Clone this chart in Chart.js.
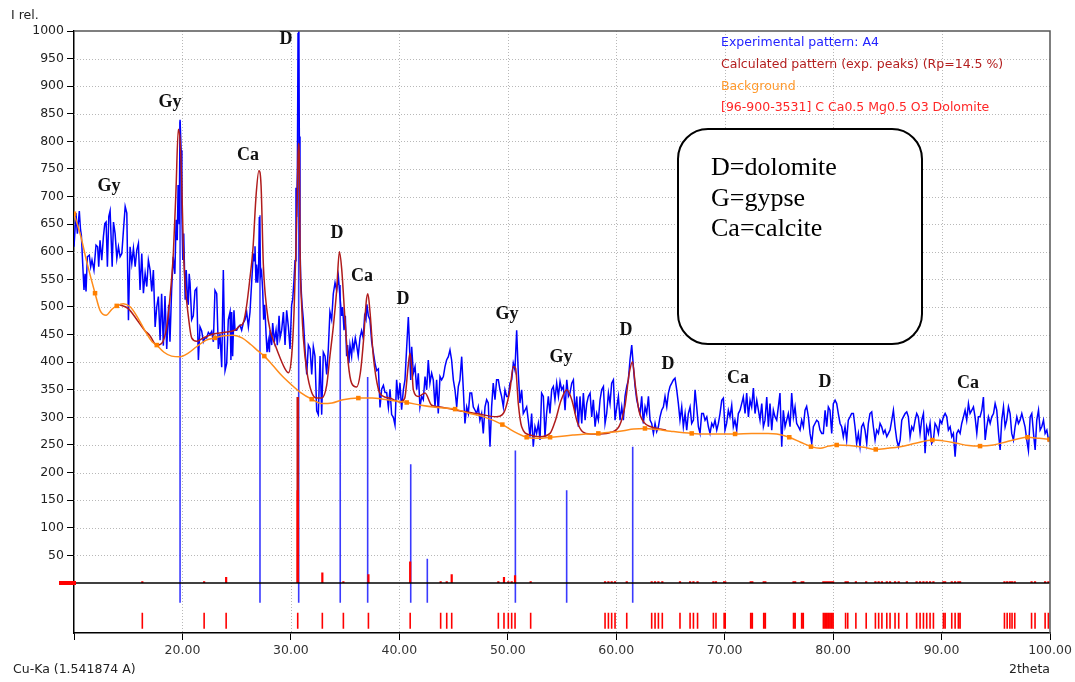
<!DOCTYPE html>
<html>
<head>
<meta charset="utf-8">
<script src="https://cdn.jsdelivr.net/npm/chart.js@4.4.1/dist/chart.umd.min.js"></script>
<style>
  html, body { margin: 0; padding: 0; background: #fff; }
  #wrap { width: 1075px; height: 682px; position: relative; }
</style>
</head>
<body>
<div id="wrap"><canvas id="xrd"></canvas></div>
<script>
// XRD pattern, sample A4
// ///////////////////////

// tick labels
const xTickValues = [10, 20, 30, 40, 50, 60, 70, 80, 90, 100];
const yTickValues = [0, 50, 100, 150, 200, 250, 300, 350, 400, 450, 500, 550, 600, 650, 700, 750, 800, 850, 900, 950, 1000];

// experimental pattern [2theta, I rel.]
const experimental = [
  [10.0,609],[10.18,670],[10.31,633],[10.49,674],[10.6,640],[10.68,630],[10.8,579],[10.92,531],[11.02,560],[11.11,528],
  [11.23,591],[11.41,594],[11.54,573],[11.66,585],[11.84,567],[12.03,612],[12.18,609],[12.28,573],[12.4,621],[12.56,585],
  [12.71,627],[12.84,651],[12.96,654],[13.08,573],[13.21,664],[13.33,674],[13.52,573],[13.64,654],[13.79,633],[13.95,588],
  [14.1,609],[14.25,591],[14.41,597],[14.56,639],[14.72,682],[14.87,670],[15.02,476],[15.17,609],[15.33,579],[15.48,606],
  [15.64,573],[15.79,603],[15.94,615],[16.09,531],[16.25,597],[16.4,525],[16.56,561],[16.71,537],[16.86,585],[17.02,567],
  [17.17,528],[17.32,567],[17.48,464],[17.63,500],[17.78,519],[17.94,440],[18.08,524],[18.24,430],[18.39,520],[18.55,424],
  [18.73,504],[18.85,437],[19.0,530],[19.15,591],[19.3,560],[19.42,658],[19.52,621],[19.6,721],[19.7,650],[19.78,839],
  [19.88,784],[19.95,670],[20.03,585],[20.12,633],[20.25,513],[20.35,567],[20.47,513],[20.54,504],[20.62,560],[20.7,544],
  [20.85,477],[21.0,484],[21.16,530],[21.31,534],[21.47,404],[21.62,464],[21.77,457],[21.93,437],[22.08,444],[22.23,444],
  [22.39,454],[22.54,450],[22.7,456],[22.85,437],[23.0,530],[23.16,524],[23.31,424],[23.46,451],[23.62,391],[23.77,567],
  [23.93,385],[24.08,398],[24.23,477],[24.39,491],[24.47,404],[24.54,491],[24.63,411],[24.75,494],[24.85,458],
  [25.0,458],[25.15,464],[25.31,467],[25.46,458],[25.61,471],[25.77,477],[25.92,491],[26.08,464],[26.23,491],[26.38,544],
  [26.54,597],[26.63,584],[26.69,610],[26.78,544],[26.84,577],[26.94,544],[27.03,577],[27.09,663],[27.21,557],[27.3,564],
  [27.4,530],[27.49,477],[27.59,504],[27.71,451],[27.8,418],[27.92,438],[28.02,418],[28.08,458],[28.23,431],[28.32,471],
  [28.48,438],[28.63,458],[28.75,431],[28.91,484],[29.0,444],[29.15,458],[29.31,491],[29.46,431],[29.61,494],[29.77,464],
  [29.92,424],[30.07,504],[30.17,514],[30.29,550],[30.38,584],[30.47,716],[30.53,663],[30.6,756],[30.66,995],[30.72,1000],
  [30.78,809],[30.84,610],[30.91,550],[30.97,524],[31.03,504],[31.15,477],[31.3,424],[31.46,378],[31.61,431],[31.77,424],
  [31.92,378],[32.07,428],[32.22,411],[32.38,312],[32.53,305],[32.69,411],[32.84,305],[32.99,418],[33.15,411],[33.3,378],
  [33.45,424],[33.6,491],[33.76,477],[33.91,524],[34.07,544],[34.22,530],[34.38,555],[34.53,517],[34.68,484],[34.77,500],
  [34.9,458],[35.02,484],[35.14,411],[35.23,431],[35.35,398],[35.45,431],[35.6,411],[35.69,437],[35.81,424],[35.94,444],
  [36.06,431],[36.21,411],[36.37,444],[36.52,457],[36.67,444],[36.8,484],[36.92,477],[37.01,505],[37.14,484],[37.29,477],
  [37.45,437],[37.6,418],[37.76,398],[37.91,385],[38.07,388],[38.22,318],[38.37,351],[38.53,358],[38.68,345],[38.83,345],
  [38.99,318],[39.14,351],[39.29,305],[39.45,300],
  [39.6,286],[39.75,368],[39.91,332],[40.06,362],[40.21,314],[40.37,350],[40.52,368],[40.68,428],[40.83,482],[40.92,440],
  [41.05,368],[41.14,428],[41.29,380],[41.45,392],[41.6,350],[41.75,380],[41.9,319],[42.06,338],[42.21,332],[42.37,374],
  [42.52,350],[42.67,404],[42.82,362],[42.98,380],[43.13,368],[43.29,319],[43.44,368],[43.59,307],[43.75,374],[43.9,368],
  [44.06,374],[44.21,392],[44.36,404],[44.52,410],[44.67,422],[44.82,404],[44.98,368],[45.13,350],[45.29,319],[45.44,356],
  [45.59,368],[45.75,410],[45.9,350],[46.05,289],[46.21,319],[46.36,307],[46.51,344],[46.67,344],[46.82,319],[46.98,313],
  [47.13,307],[47.28,319],[47.43,295],[47.59,307],[47.74,271],[47.9,319],[48.05,332],[48.2,326],[48.36,247],[48.51,319],
  [48.66,362],[48.82,332],[48.97,368],[49.13,368],[49.28,350],[49.43,338],[49.59,319],[49.74,350],[49.9,338],[50.05,338],
  [50.2,362],[50.36,368],[50.51,398],[50.66,386],[50.82,458],[50.97,380],[51.12,326],[51.28,350],[51.43,307],[51.59,313],
  [51.74,319],[51.89,295],[52.05,265],[52.2,307],[52.35,247],[52.51,283],[52.66,271],[52.82,289],[52.97,259],[53.12,344],
  [53.28,338],[53.43,265],[53.58,307],[53.74,338],[53.89,307],[54.05,350],[54.2,356],[54.35,332],
  [54.51,362],[54.67,338],[54.82,365],[54.97,350],[55.13,356],[55.28,313],[55.44,368],[55.59,338],[55.74,344],[55.9,362],
  [56.05,368],[56.2,307],[56.36,338],[56.51,283],[56.66,338],[56.82,289],[56.97,344],[57.13,295],[57.28,325],[57.43,338],
  [57.59,344],[57.74,301],[57.89,332],[58.05,283],[58.2,307],[58.35,295],[58.51,332],[58.66,350],[58.82,356],[58.97,289],
  [59.12,307],[59.28,344],[59.43,325],[59.58,362],[59.74,368],[59.89,295],[60.05,319],[60.2,338],[60.35,295],[60.51,319],
  [60.66,295],[60.81,338],[60.97,356],[61.12,368],[61.27,404],[61.43,431],[61.58,392],[61.74,356],[61.89,332],[62.04,319],
  [62.2,307],[62.35,338],[62.5,289],[62.66,319],[62.81,307],[62.97,338],[63.12,295],[63.27,289],[63.43,271],[63.58,289],
  [63.73,274],[63.89,283],[64.04,301],[64.19,313],[64.35,319],[64.5,338],[64.66,319],[64.81,344],[64.96,356],[65.12,362],
  [65.27,368],[65.42,371],[65.58,350],[65.73,325],[65.88,295],[66.04,319],[66.19,283],[66.35,307],[66.5,277],[66.65,307],
  [66.81,319],[66.96,289],[67.12,295],[67.27,350],[67.42,319],[67.58,283],[67.73,271],[67.88,307],[68.04,307],[68.19,295],
  [68.35,301],[68.5,283],[68.65,271],[68.81,289],[68.96,283],[69.11,295],
  [69.27,277],[69.42,289],[69.57,307],[69.73,331],[69.88,335],[70.03,277],[70.18,289],[70.34,313],[70.49,301],[70.65,322],
  [70.8,283],[70.95,295],[71.11,277],[71.26,307],[71.42,313],[71.57,325],[71.72,337],[71.88,307],[72.03,344],[72.19,301],
  [72.34,331],[72.49,319],[72.65,353],[72.8,307],[72.96,331],[73.11,313],[73.26,295],[73.42,325],[73.57,283],[73.72,295],
  [73.88,337],[74.03,283],[74.18,325],[74.34,277],[74.49,313],[74.64,301],[74.8,295],[74.95,319],[75.1,344],[75.26,247],
  [75.41,313],[75.57,283],[75.72,295],[75.87,307],[76.03,283],[76.18,344],[76.34,301],[76.49,319],[76.64,289],[76.8,283],
  [76.95,277],[77.1,295],[77.26,283],[77.41,313],[77.56,320],[77.72,301],[77.87,271],[78.03,253],[78.18,283],[78.33,289],
  [78.49,295],[78.64,292],[78.79,277],[78.95,271],[79.1,271],[79.26,313],[79.41,283],[79.56,319],[79.71,313],[79.87,271],
  [80.02,325],[80.18,331],[80.33,325],[80.48,307],[80.64,289],[80.79,283],[80.94,265],[81.1,283],[81.25,259],[81.4,295],
  [81.56,301],[81.71,307],[81.87,307],[82.02,283],[82.17,253],[82.33,271],[82.48,247],[82.63,283],[82.79,289],[82.94,277],
  [83.1,253],[83.25,289],[83.4,307],[83.56,310],[83.71,283],
  [83.87,259],[84.02,277],[84.18,271],[84.33,289],[84.48,283],[84.64,271],[84.79,277],[84.95,265],[85.1,271],[85.25,277],
  [85.41,295],[85.56,313],[85.71,283],[85.87,259],[86.02,247],[86.18,259],[86.33,295],[86.48,301],[86.64,307],[86.79,310],
  [86.94,301],[87.1,265],[87.25,283],[87.4,277],[87.56,295],[87.71,307],[87.86,301],[88.02,271],[88.17,295],[88.33,307],
  [88.48,235],[88.63,283],[88.79,271],[88.94,289],[89.09,253],[89.25,259],[89.4,289],[89.56,283],[89.71,271],[89.86,295],
  [90.02,289],[90.17,301],[90.33,307],[90.48,301],[90.63,277],[90.79,283],[90.94,265],[91.09,271],[91.25,229],[91.4,271],
  [91.55,277],[91.71,271],[91.86,289],[92.02,301],[92.17,313],[92.32,295],[92.48,325],[92.63,307],[92.79,313],[92.94,319],
  [93.09,301],[93.25,271],[93.4,301],[93.55,301],[93.71,313],[93.86,337],[94.02,259],[94.17,283],[94.32,301],[94.48,289],
  [94.63,301],[94.79,307],[94.94,325],[95.09,313],[95.25,271],[95.4,241],[95.55,295],[95.71,319],[95.86,283],[96.01,295],
  [96.17,319],[96.32,307],[96.47,271],[96.63,259],[96.78,283],[96.94,301],[97.09,289],[97.24,295],[97.4,307],[97.55,295],
  [97.7,283],[97.86,259],[98.01,240],[98.17,301],[98.32,307],[98.48,271],[98.63,241],[98.78,295],[98.94,313],[99.09,277],
  [99.24,283],[99.4,295],[99.55,271],[99.71,277],[99.86,259],[100.0,265]
];

// calculated pattern (exp. peaks)
const calculated = [
  [14.2,504],[15.0,497],[15.8,477],[16.5,458],[17.0,448],[17.62,431],[18.08,434],[18.55,464],[18.85,517],[19.16,597],
  [19.4,709],[19.62,822],[19.78,802],[19.93,729],[20.08,610],[20.24,544],[20.54,484],[20.85,444],[21.31,438],[21.93,444],
  [22.85,451],[23.77,454],[24.85,458],[25.3,466],[25.6,471],[25.9,500],[26.2,548],[26.5,605],[26.8,705],[27.05,747],
  [27.25,720],[27.46,577],[27.77,497],[28.08,458],[28.55,431],[29.0,408],[29.46,388],[29.77,381],[30.07,411],[30.29,491],
  [30.47,610],[30.6,710],[30.69,796],[30.78,770],[30.84,610],[31.0,500],[31.15,444],[31.46,385],[31.92,345],[32.38,335],
  [32.84,335],[33.3,358],[33.6,411],[33.91,464],[34.22,530],[34.47,600],[34.68,570],[34.99,477],[35.29,398],[35.6,362],
  [36.06,355],[36.4,380],[36.7,440],[36.95,510],[37.1,524],[37.3,490],[37.6,411],[38.07,351],[38.53,338],[39.14,335],
  [40.0,328],[40.5,335],[40.8,390],[40.98,416],[41.15,390],[41.29,350],[41.75,338],[42.37,344],[42.98,322],[43.75,319],
  [45.29,313],[47.13,307],[48.97,301],[49.5,305],[49.74,313],[50.2,350],[50.51,392],[50.72,389],[50.97,325],[51.28,283],
  [52.05,268],[52.97,265],[53.89,271],[54.4,295],[54.9,330],[55.44,350],[55.9,332],[56.4,292],[56.9,274],[57.6,270],
  [58.5,270],[59.5,273],[60.3,285],[60.8,320],[61.2,380],[61.5,401],[61.75,360],[62.1,312],[62.6,290],[63.2,283],
  [64.0,279],[64.6,277]
];

// background curve and its nodes
const background = [
  [10.0,669],[10.6,630],[11.2,580],[11.94,525],[12.4,494],[12.96,485],[13.5,496],[13.94,502],[14.56,506],[15.2,500],
  [15.9,480],[16.6,455],[17.2,437],[17.63,431],[18.3,418],[19.0,411],[19.78,410],[20.5,416],[21.3,428],[22.2,440],
  [23.0,444],[23.8,448],[24.7,449],[25.5,444],[26.3,432],[27.0,420],[27.55,411],[28.3,395],[29.2,375],[30.23,356],
  [30.9,345],[31.92,333],[32.84,325],[33.8,326],[34.8,332],[36.22,335],[37.5,335],[38.5,333],[39.5,330],[40.68,327],
  [42.0,322],[43.5,318],[45.14,315],[46.5,307],[47.8,301],[49.5,287],[50.5,275],[51.74,264],[52.8,262],[53.9,264],
  [55.0,266],[56.0,268],[57.2,270],[58.35,271],[59.5,273],[60.65,276],[61.6,279],[62.65,280],[63.8,278],[65.0,275],
  [66.96,271],[68.3,270],[69.6,270],[70.96,270],[72.5,271],[74.0,271],[74.8,270],[75.96,264],[77.0,255],[77.96,247],
  [78.8,244],[79.6,248],[80.33,250],[81.5,249],[82.8,246],[83.93,242],[85.0,244],[86.2,247],[87.6,253],[89.15,259],
  [90.3,257],[91.4,253],[92.5,249],[93.55,248],[94.8,250],[96.0,256],[97.0,261],[97.92,264],[99.0,262],[99.95,260]
];
const backgroundNodes = [
  [10.0,669],[11.94,525],[13.94,502],[17.63,431],[23.0,444],[27.55,411],[31.92,333],[36.22,335],[40.68,327],[45.14,315],
  [49.5,287],[51.74,264],[53.9,264],[58.35,271],[62.65,280],[66.96,271],[70.96,270],[75.96,264],[77.96,247],[80.33,250],
  [83.93,242],[89.15,259],[93.55,248],[97.92,264],[99.95,260]
];

// experimental peaks (blue sticks) [2theta, height]
const peakSticks = [
  [19.78,836],[27.15,666],[30.72,1000],[34.55,540],[37.08,373],[41.05,215],[42.58,44],[50.7,240],[55.43,168],[61.52,247]
];

// [96-900-3531] Dolomite reflections [2theta, height]
const dolomite = [
  [16.3,3],[22.0,3],[24.03,11],[30.63,168],[32.9,19],[34.84,3],[37.15,16],[41.0,39],[43.81,3],[44.37,3],
  [44.83,16],[49.13,3],[49.65,11],[50.05,3],[50.36,3],[50.67,14],[52.11,3],[58.97,3],[59.28,3],[59.58,3],
  [59.89,3],[60.97,3],[63.27,3],[63.58,3],[63.89,3],[64.25,3],[65.88,3],[66.81,3],[67.12,3],[67.5,3],
  [68.96,3],[69.2,3],[69.95,3],[70.05,3],[72.4,3],[72.55,3],[73.6,3],[73.75,3],[76.35,3],[76.5,3],
  [77.1,3],[77.25,3],[79.1,3],[79.25,3],[79.4,3],[79.55,3],[79.7,3],[79.85,3],[80.0,3],[81.15,3],
  [81.35,3],[82.1,3],[83.05,3],[83.9,3],[84.2,3],[84.5,3],[84.95,3],[85.25,3],[85.71,3],[86.05,3],
  [86.8,3],[87.7,3],[88.02,3],[88.33,3],[88.63,3],[88.94,3],[89.25,3],[90.17,3],[90.33,3],[90.94,3],
  [91.25,3],[91.55,3],[91.71,3],[95.8,3],[96.05,3],[96.3,3],[96.5,3],[96.75,3],[98.3,3],[98.62,3],
  [99.55,3],[99.85,3]
];
const dolomiteMain = [[30.63,337]];

// phase labels [text, 2theta, I rel.]
const phaseLabels = [
  ["Gy",13.23,719],["Gy",18.85,871],["Ca",26.05,775],["D",29.55,984],["D",34.25,634],["Ca",36.56,556],
  ["D",40.34,513],["Gy",49.93,486],["Gy",54.91,408],["D",60.9,458],["D",64.78,397],["Ca",71.23,370],
  ["D",79.25,364],["Ca",92.44,362]
];

const legendLines = [
  ["Experimental pattern: A4", "#2323ff"],
  ["Calculated pattern (exp. peaks) (Rp=14.5 %)", "#b41e1e"],
  ["Background", "#ff9a2e"],
  ["[96-900-3531] C Ca0.5 Mg0.5 O3 Dolomite", "#ff2626"]
];
const keyLines = ["D=dolomite", "G=gypse", "Ca=calcite"];


// helpers
const toXY = list => list.map(p => ({ x: p[0], y: p[1] }));

// vertical segments from y0 to y1 (or to the height of each stick)
function stickLines(list, y0, y1) {
  const out = [];
  list.forEach(p => {
    out.push({ x: p[0], y: y0 });
    out.push({ x: p[0], y: y1 === undefined ? p[1] : y1 });
    out.push({ x: p[0], y: null });
  });
  return out;
}

const sans = "'DejaVu Sans', sans-serif";

// dotted grid, drawn under the datasets
const dottedGrid = {
  id: 'dottedGrid',
  beforeDatasetsDraw(chart) {
    const ctx = chart.ctx;
    const a = chart.chartArea;
    const xs = chart.scales.x;
    const ys = chart.scales.y;
    ctx.save();
    ctx.strokeStyle = '#b8b8b8';
    ctx.lineWidth = 1;
    ctx.setLineDash([1, 2]);
    ctx.beginPath();
    xTickValues.slice(1, -1).forEach(v => {
      const px = Math.round(xs.getPixelForValue(v)) + 0.5;
      ctx.moveTo(px, a.top);
      ctx.lineTo(px, a.bottom);
    });
    yTickValues.slice(1, -1).forEach(v => {
      const py = Math.round(ys.getPixelForValue(v)) + 0.5;
      ctx.moveTo(a.left, py);
      ctx.lineTo(a.right, py);
    });
    ctx.stroke();
    ctx.restore();
  }
};

const decorations = {
  id: 'decorations',
  afterDraw(chart) {
    const ctx = chart.ctx;
    const a = chart.chartArea;
    const xs = chart.scales.x;
    const ys = chart.scales.y;
    const y0 = ys.getPixelForValue(0);
    ctx.save();

    // zero line between main and stick panels
    ctx.strokeStyle = '#000';
    ctx.lineWidth = 1.5;
    ctx.beginPath();
    ctx.moveTo(a.left, y0);
    ctx.lineTo(a.right, y0);
    ctx.stroke();
    ctx.fillStyle = '#ff0000';
    ctx.fillRect(a.left - 15, y0 - 2, 17, 4);

    // frame
    ctx.strokeStyle = '#555';
    ctx.lineWidth = 1.5;
    ctx.beginPath();
    ctx.moveTo(a.left, a.top);
    ctx.lineTo(a.right, a.top);
    ctx.lineTo(a.right, a.bottom);
    ctx.stroke();

    // phase labels
    ctx.fillStyle = '#111';
    ctx.font = "bold 18px 'Liberation Serif', serif";
    ctx.textAlign = 'center';
    ctx.textBaseline = 'middle';
    phaseLabels.forEach(l => {
      ctx.fillText(l[0], xs.getPixelForValue(l[1]), ys.getPixelForValue(l[2]));
    });

    // legend texts
    ctx.font = "12.5px " + sans;
    ctx.textAlign = 'left';
    legendLines.forEach((l, i) => {
      ctx.fillStyle = l[1];
      ctx.fillText(l[0], 721, 43 + i * 21.7);
    });

    // key box
    ctx.beginPath();
    ctx.roundRect(678, 129, 244, 215, 30);
    ctx.fillStyle = '#fff';
    ctx.fill();
    ctx.strokeStyle = '#000';
    ctx.lineWidth = 2;
    ctx.stroke();
    ctx.fillStyle = '#000';
    ctx.font = "26px 'Liberation Serif', serif";
    ctx.textBaseline = 'alphabetic';
    keyLines.forEach((t, i) => ctx.fillText(t, 711, 175 + i * 30.5));

    // axis captions
    ctx.font = "12.5px " + sans;
    ctx.fillStyle = '#222';
    ctx.textBaseline = 'middle';
    ctx.fillText('I rel.', 11, 16);
    ctx.fillText('Cu-Ka (1.541874 A)', 13, 670);
    ctx.textAlign = 'right';
    ctx.fillText('2theta', 1050, 670);
    ctx.restore();
  }
};

const lineDefaults = { showLine: true, pointRadius: 0, fill: false, spanGaps: false };

new Chart(document.getElementById('xrd'), {
  type: 'scatter',
  data: {
    datasets: [
      Object.assign({}, lineDefaults, {
        label: 'Background nodes', data: toXY(backgroundNodes), showLine: false,
        pointRadius: 3.2, pointStyle: 'rect', backgroundColor: '#ff8000', borderColor: '#ff8000', borderWidth: 0, order: 1
      }),
      Object.assign({}, lineDefaults, {
        label: 'Background', data: toXY(background), borderColor: '#ff8c1a', borderWidth: 1.5,
        cubicInterpolationMode: 'monotone', order: 2
      }),
      Object.assign({}, lineDefaults, {
        label: 'Calculated', data: toXY(calculated), borderColor: '#b01c1c', borderWidth: 1.5,
        cubicInterpolationMode: 'monotone', order: 3
      }),
      Object.assign({}, lineDefaults, {
        label: 'Experimental', data: toXY(experimental), borderColor: '#0000ff', borderWidth: 1.5, order: 4
      }),
      Object.assign({}, lineDefaults, {
        label: 'Dolomite', data: stickLines(dolomite, 0), borderColor: '#ff0000', borderWidth: 2.2, order: 5
      }),
      Object.assign({}, lineDefaults, {
        label: 'Dolomite main', data: stickLines(dolomiteMain, 0), borderColor: '#cc1010', borderWidth: 2.5, order: 6
      }),
      Object.assign({}, lineDefaults, {
        label: 'Peaks', data: stickLines(peakSticks, 0), borderColor: '#3a3aff', borderWidth: 1.6, order: 7
      }),
      Object.assign({}, lineDefaults, {
        label: 'Peak positions', data: stickLines(peakSticks, 0, -36), borderColor: '#3a3aff', borderWidth: 1.6, order: 8
      }),
      Object.assign({}, lineDefaults, {
        label: 'Dolomite positions', data: stickLines(dolomite, -54, -83), borderColor: '#ff0000', borderWidth: 1.6, order: 9
      })
    ]
  },
  options: {
    responsive: true,
    maintainAspectRatio: false,
    animation: false,
    layout: { padding: { left: 0, top: 31, right: 25, bottom: 0 } },
    plugins: { legend: { display: false }, tooltip: { enabled: false } },
    scales: {
      x: {
        type: 'linear', min: 10, max: 100,
        afterBuildTicks: s => { s.ticks = xTickValues.map(v => ({ value: v })); },
        afterFit: s => { s.height = 49; },
        ticks: {
          autoSkip: false, maxRotation: 0, padding: 3, color: '#333',
          font: { family: sans, size: 12.5 },
          callback: v => (v === 10 ? '' : Number(v).toFixed(2))
        },
        grid: { drawOnChartArea: false, tickColor: '#000', tickLength: 7, lineWidth: 1 },
        border: { display: true, color: '#000', width: 1.5 }
      },
      y: {
        type: 'linear', min: -90.6, max: 1000,
        afterBuildTicks: s => { s.ticks = yTickValues.map(v => ({ value: v })); },
        afterFit: s => { s.width = 74; },
        ticks: {
          autoSkip: false, padding: 3, color: '#222',
          font: { family: sans, size: 12.5 },
          callback: v => (v === 0 ? '' : String(v))
        },
        grid: { drawOnChartArea: false, tickColor: '#000', tickLength: 7, lineWidth: 1 },
        border: { display: true, color: '#000', width: 1.5 }
      }
    }
  },
  plugins: [dottedGrid, decorations]
});
</script>
</body>
</html>
